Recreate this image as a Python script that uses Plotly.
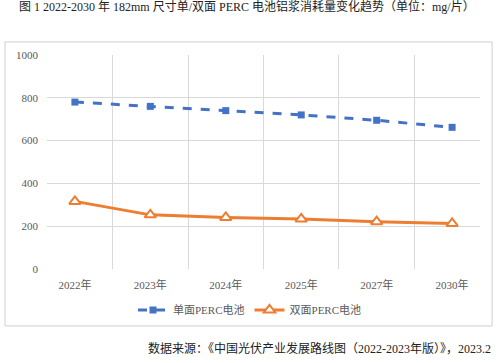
import plotly.graph_objects as go

categories = ["2022年", "2023年", "2024年", "2025年", "2027年", "2030年"]
mono_perc = [780, 760, 740, 720, 695, 662]
bi_perc = [316, 253, 241, 234, 221, 213]
y_ticks = [0, 200, 400, 600, 800, 1000]

title_text = "图 1 2022-2030 年 182mm 尺寸单/双面 PERC 电池铝浆消耗量变化趋势（单位：mg/片）"
source_text = "数据来源：《中国光伏产业发展路线图（2022-2023年版）》，2023.2"

FONT = "Liberation Serif, Noto Sans CJK SC, serif"
BLUE = "#4472C4"
ORANGE = "#ED7D31"
GRID = "#D9D9D9"

fig = go.Figure()
fig.add_trace(go.Scatter(
    x=categories, y=mono_perc, name="单面PERC电池", mode="lines+markers",
    line=dict(color=BLUE, width=3, dash="dash"),
    marker=dict(symbol="square", size=7, color=BLUE),
))
fig.add_trace(go.Scatter(
    x=categories, y=bi_perc, name="双面PERC电池", mode="lines+markers",
    line=dict(color=ORANGE, width=3),
    marker=dict(symbol="triangle-up", size=10, color="white",
                line=dict(color=ORANGE, width=2)),
))

fig.update_layout(
    width=500, height=363,
    margin=dict(l=47, r=20, t=55, b=94, autoexpand=False),
    paper_bgcolor="white", plot_bgcolor="white",
    font=dict(family=FONT, color="#595959", size=11),
    showlegend=True,
    legend=dict(orientation="h", x=(250 - 47) / 433, xanchor="center", xref="paper",
                yref="container", y=1 - 310 / 363, yanchor="middle",
                font=dict(size=11, color="#595959"), itemwidth=30),
    xaxis=dict(type="category", tickson="boundaries", showgrid=True, gridcolor=GRID,
               gridwidth=1, showline=False, ticks="", zeroline=False, automargin=False,
               ticklabelstandoff=8, tickfont=dict(size=11, color="#595959")),
    yaxis=dict(range=[0, 1000], tickvals=y_ticks, showgrid=True, gridcolor=GRID,
               gridwidth=1, zeroline=False, showline=False, ticks="", automargin=False,
               ticklabelstandoff=8, tickfont=dict(size=11, color="#595959")),
    annotations=[
        dict(text=title_text, xref="paper", yref="paper", x=-0.07, y=1.225,
             xanchor="left", yanchor="middle", showarrow=False,
             font=dict(size=12, color="#222222", family=FONT)),
        dict(text=source_text, xref="paper", yref="paper", x=1.03, y=-0.37,
             xanchor="right", yanchor="middle", showarrow=False,
             font=dict(size=12, color="#222222", family=FONT)),
    ],
    shapes=[
        dict(type="rect", xref="paper", yref="paper", x0=-0.097, x1=1.028,
             y0=-0.266, y1=1.061, line=dict(color="#CFCFCF", width=1),
             fillcolor="rgba(0,0,0,0)", layer="above"),
    ],
)

fig.write_html("out.html", config={"displayModeBar": False},
               post_script="document.body.style.margin='0';")
